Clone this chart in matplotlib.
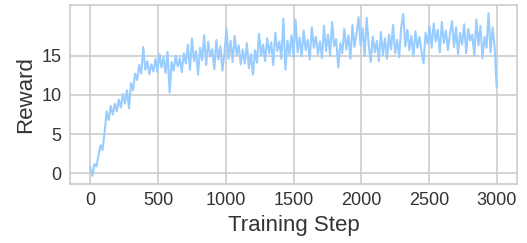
import matplotlib.pyplot as plt

# 보상 곡선 데이터 (15 스텝 간격)
steps = list(range(0, 3001, 15))
rewards = [
    0.8, -0.3, 1.2, 0.9, 2.3, 3.6, 3.0, 5.3, 7.9, 6.8,
    8.6, 7.5, 8.9, 7.9, 9.4, 8.4, 10.1, 8.9, 10.6, 8.3,
    11.5, 10.6, 12.7, 11.9, 13.8, 12.7, 16.1, 13.2, 14.3, 12.6,
    13.9, 13.0, 14.6, 12.9, 15.2, 13.5, 14.8, 12.8, 15.5, 10.3,
    14.2, 13.1, 15.0, 13.6, 14.7, 12.9, 15.3, 14.0, 16.4, 13.2,
    17.2, 14.3, 15.6, 12.6, 16.0, 14.4, 17.6, 13.8, 16.8, 14.9,
    15.8, 13.3, 17.0, 14.5, 16.2, 13.1, 15.4, 18.4, 14.6, 16.9,
    14.2, 17.5, 15.1, 16.3, 13.9, 15.8, 14.0, 16.6, 13.4, 15.2,
    12.6, 15.7, 14.1, 17.8, 15.0, 16.4, 14.3, 17.2, 15.3, 16.7,
    13.8, 17.9, 15.6, 16.8, 14.6, 19.7, 13.2, 16.9, 15.1, 17.6,
    14.8, 19.6, 15.4, 17.3, 14.9, 18.2, 15.7, 17.0, 14.5, 18.6,
    16.0, 17.4, 15.2, 16.8, 14.7, 18.8, 15.6, 17.7, 15.0, 19.3,
    16.2, 17.1, 13.5, 16.6, 15.3, 18.4, 15.8, 17.6, 14.6, 18.9,
    16.1, 17.8, 19.9, 16.3, 18.5, 15.0, 19.8, 16.4, 14.2, 17.4,
    15.4, 16.9, 14.3, 18.0, 15.1, 17.2, 14.6, 17.7, 15.8, 18.9,
    15.3, 17.0, 14.8, 18.6, 20.3, 16.2, 18.3, 15.7, 17.5, 14.9,
    18.1, 16.0, 17.4, 15.5, 14.0, 17.9, 16.5, 18.7, 16.0, 19.1,
    16.8, 18.3, 15.4, 19.3, 16.6, 18.2, 15.7, 17.8, 19.4, 16.1,
    18.6, 15.2, 17.9, 16.4, 19.0, 15.3, 18.4, 16.9, 17.7, 15.0,
    19.6, 16.3, 18.8, 14.7, 17.4, 16.0, 20.4, 15.4, 18.6, 16.1,
    11.0,
]
xticks = [0, 500, 1000, 1500, 2000, 2500, 3000]
yticks = [0, 5, 10, 15]

plt.rcParams['font.family'] = ['Liberation Sans', 'DejaVu Sans']
plt.rcParams['text.color'] = '#333333'

fig = plt.figure(figsize=(5.27, 2.43), dpi=100)
ax = fig.add_axes([0.133, 0.243, 0.848, 0.736])

ax.plot(steps, rewards, color='#99ccff', linewidth=1.5)

ax.set_xticks(xticks)
ax.set_yticks(yticks)
ax.grid(True, color='#cccccc', linewidth=1.2)
ax.set_axisbelow(True)
for s in ax.spines.values():
    s.set_color('#cccccc')
    s.set_linewidth(1.2)
ax.tick_params(length=0, labelsize=13, labelcolor='#333333', pad=6)

ax.set_xlabel('Training Step', fontsize=16, color='#333333')
ax.set_ylabel('Reward', fontsize=16, color='#333333')

fig.savefig('out.png', dpi=100)
